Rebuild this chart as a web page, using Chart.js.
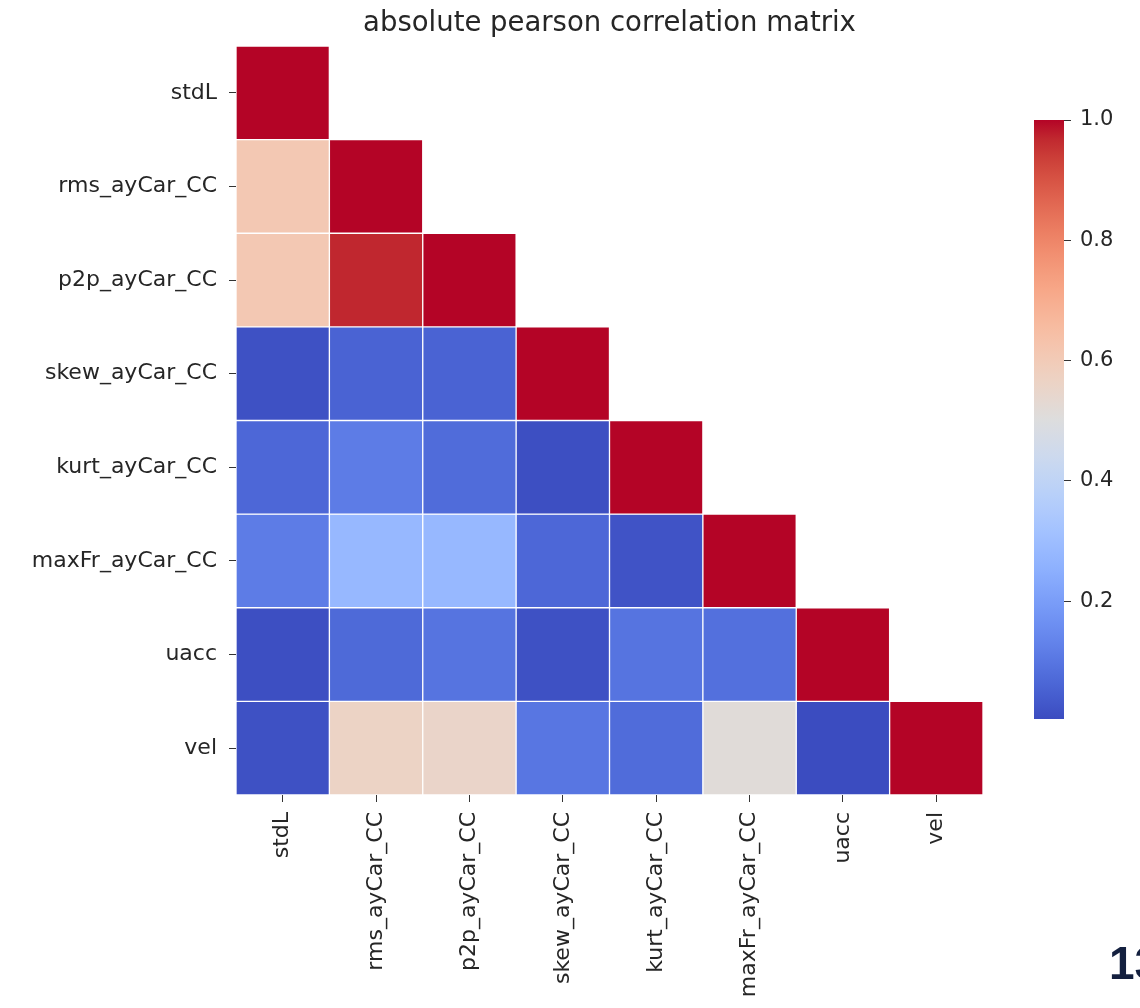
<!DOCTYPE html>
<html>
<head>
<meta charset="utf-8">
<script src="https://cdn.jsdelivr.net/npm/chart.js@4.4.1/dist/chart.umd.min.js"></script>
<style>
  body { margin: 0; background: #fff; width: 1140px; height: 1008px; overflow: hidden; position: relative; }
  #mainWrap { position: absolute; left: 0; top: 0; width: 1000px; height: 1008px; }
  #barWrap { position: absolute; left: 1034px; top: 0; width: 106px; height: 1008px; }
  #pageNo { position: absolute; left: 1109px; top: 936px; font: bold 46px "Liberation Sans", Arial, sans-serif; color: #14203f; }
</style>
</head>
<body>
<div id="mainWrap"><canvas id="heat"></canvas></div>
<div id="barWrap"><canvas id="cbar"></canvas></div>
<div id="pageNo">13</div>
<script>
const labels = ["stdL", "rms_ayCar_CC", "p2p_ayCar_CC", "skew_ayCar_CC", "kurt_ayCar_CC", "maxFr_ayCar_CC", "uacc", "vel"];

// lower triangle of |pearson r|, one array per row
const rowStdL  = [1.0];
const rowRms   = [0.61, 1.0];
const rowP2p   = [0.61, 0.97, 1.0];
const rowSkew  = [0.015, 0.055, 0.055, 1.0];
const rowKurt  = [0.065, 0.115, 0.075, 0.01, 1.0];
const rowMaxFr = [0.115, 0.28, 0.28, 0.065, 0.02, 1.0];
const rowUacc  = [0.01, 0.07, 0.095, 0.015, 0.095, 0.085, 1.0];
const rowVel   = [0.015, 0.565, 0.555, 0.10, 0.075, 0.515, 0.004, 1.0];
const corr = [rowStdL, rowRms, rowP2p, rowSkew, rowKurt, rowMaxFr, rowUacc, rowVel];

const cbTicks = [0.2, 0.4, 0.6, 0.8, 1.0];

const vmin = Math.min(...corr.flat());
const vmax = Math.max(...corr.flat());

// coolwarm (Moreland) colour table, 33 steps
const cw = [
  [59,76,192],[68,90,204],[77,104,215],[87,117,225],[98,130,234],[108,142,241],[119,154,247],[130,165,251],
  [141,176,254],[152,185,255],[163,194,255],[174,201,253],[184,208,249],[194,213,244],[204,217,238],[213,219,230],
  [221,221,221],[229,216,209],[236,211,197],[241,204,185],[245,196,173],[247,187,160],[247,177,148],[247,166,135],
  [244,154,123],[241,141,111],[236,127,99],[229,112,88],[222,96,77],[213,80,66],[203,62,56],[192,40,47],[180,4,38]
];
function coolwarm(t) {
  t = Math.max(0, Math.min(1, t));
  const p = t * (cw.length - 1);
  const i = Math.min(Math.floor(p), cw.length - 2);
  const f = p - i;
  const c = cw[i].map((a, k) => Math.round(a + (cw[i + 1][k] - a) * f));
  return `rgb(${c[0]},${c[1]},${c[2]})`;
}
const colorOf = v => coolwarm((v - vmin) / (vmax - vmin));

const font = { family: "'DejaVu Sans', sans-serif", size: 22 };
const textColor = "#262626";

const datasets = corr.map((row, r) => ({
  label: labels[r],
  data: labels.map((_, c) => c <= r ? [r, r + 1] : null),
  backgroundColor: labels.map((_, c) => c <= r ? colorOf(row[c]) : "rgba(0,0,0,0)"),
  borderColor: "#ffffff",
  borderWidth: 1,
  borderSkipped: false,
  barPercentage: 1,
  categoryPercentage: 1
}));

new Chart(document.getElementById("heat"), {
  type: "bar",
  data: { labels: labels, datasets: datasets },
  options: {
    responsive: true,
    maintainAspectRatio: false,
    animation: false,
    layout: { padding: { left: 0, right: 17, top: 0, bottom: 0 } },
    plugins: {
      legend: { display: false },
      tooltip: { enabled: false },
      title: {
        display: true,
        fullSize: false,
        text: "absolute pearson correlation matrix",
        color: textColor,
        font: { family: font.family, size: 27.5, weight: "normal", lineHeight: 1.2 },
        padding: { top: 7, bottom: 6 }
      }
    },
    scales: {
      x: {
        stacked: true,
        offset: true,
        grid: { offset: false, drawOnChartArea: false, drawTicks: true, tickLength: 7, tickColor: "#333" },
        border: { display: false },
        ticks: { color: textColor, font: font, maxRotation: 90, minRotation: 90, padding: 10, autoSkip: false },
        afterFit: s => { s.height = 213; }
      },
      y: {
        reverse: true,
        min: 0,
        max: labels.length,
        afterBuildTicks: s => { s.ticks = labels.map((_, i) => ({ value: i + 0.5 })); },
        grid: { drawOnChartArea: false, drawTicks: true, tickLength: 7, tickColor: "#333" },
        border: { display: false },
        ticks: { color: textColor, font: font, padding: 12, autoSkip: false, callback: (v, i) => labels[i] },
        afterFit: s => { s.width = 236; }
      }
    }
  }
});

// colour bar
new Chart(document.getElementById("cbar"), {
  type: "bar",
  data: {
    labels: [""],
    datasets: [{
      data: [[vmin, vmax]],
      backgroundColor: ctx => {
        const area = ctx.chart.chartArea;
        if (!area) return "#ddd";
        const g = ctx.chart.ctx.createLinearGradient(0, area.bottom, 0, area.top);
        cw.forEach((c, i) => g.addColorStop(i / (cw.length - 1), `rgb(${c[0]},${c[1]},${c[2]})`));
        return g;
      },
      borderWidth: 0,
      barPercentage: 1,
      categoryPercentage: 1
    }]
  },
  options: {
    responsive: true,
    maintainAspectRatio: false,
    animation: false,
    layout: { padding: { left: 0, right: 0, top: 120, bottom: 289 } },
    plugins: { legend: { display: false }, tooltip: { enabled: false } },
    scales: {
      x: { display: false },
      y: {
        position: "right",
        min: vmin,
        max: vmax,
        afterBuildTicks: s => { s.ticks = cbTicks.map(v => ({ value: v })); },
        grid: { drawOnChartArea: false, drawTicks: true, tickLength: 7, tickColor: "#333" },
        border: { display: false },
        ticks: { color: textColor, font: { family: font.family, size: 21 }, padding: 9, callback: v => v.toFixed(1) },
        afterFit: s => { s.width = 76; }
      }
    }
  }
});
</script>
</body>
</html>
